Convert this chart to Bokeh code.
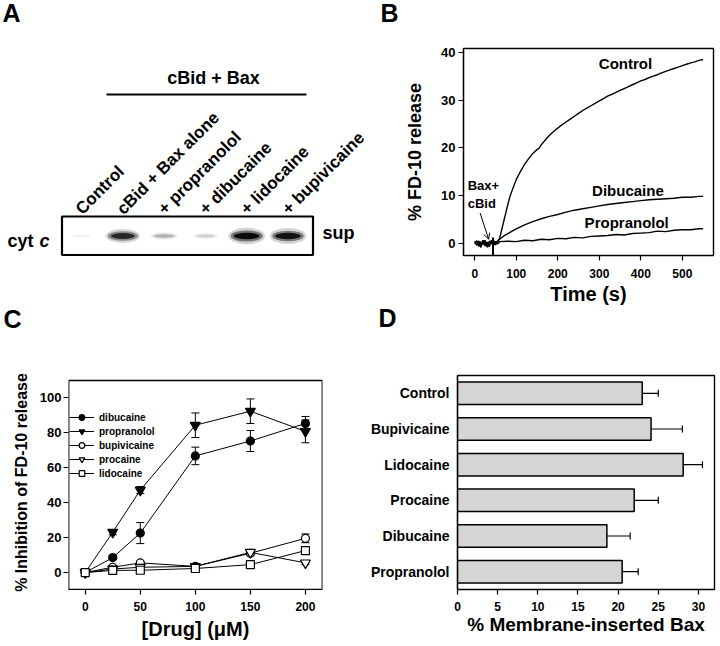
import math
from bokeh.plotting import figure
from bokeh.layouts import row, column
from bokeh.models import (Range1d, FactorRange, ColumnDataSource, Arrow, OpenHead,
                          Whisker, TeeHead, Legend, LegendItem, BoxAnnotation)
from bokeh.core.properties import value
from bokeh.embed import file_html
from bokeh.resources import INLINE

FONT = "Liberation Sans"

# ---------------- Panel A data ----------------
lane_labels = ["Control", "cBid + Bax alone", "+ propranolol", "+ dibucaine", "+ lidocaine", "+ bupivicaine"]
band_intensity = [0.03, 0.8, 0.22, 0.12, 1.0, 0.95]

# ---------------- Panel B data ----------------
t_control = [0, 5, 10, 15, 20, 25, 30, 35, 40, 45, 50, 55, 60,
             65, 70, 75, 80, 85, 90, 95, 100,
             110, 120, 130, 140, 150, 155,
             160, 170, 180, 190, 200, 210, 220, 230, 240, 250, 260, 270, 280, 290, 300,
             310, 320, 330, 340, 350, 360, 370, 380, 390, 400, 410, 420, 430, 440, 450,
             460, 470, 480, 490, 500, 510, 520, 530, 540, 550]
y_control = [0.3, 0.1, 0.4, -0.4, 0.5, -0.6, 0.2, -0.8, 0.6, -0.5, 0.3, 0.2, 1.0,
             2.8, 4.6, 6.4, 8.2, 9.8, 11.0, 12.2, 13.3,
             15.0, 16.5, 17.7, 18.8, 19.6, 19.9,
             20.6, 21.6, 22.6, 23.4, 24.1, 24.8, 25.4, 26.0, 26.6, 27.2, 27.8, 28.3, 28.8, 29.3, 29.8,
             30.3, 30.8, 31.2, 31.6, 32.0, 32.4, 32.8, 33.2, 33.6, 34.0, 34.3, 34.7, 35.0, 35.3, 35.7,
             36.0, 36.3, 36.6, 36.9, 37.2, 37.5, 37.8, 38.0, 38.3, 38.5]

t_dibucaine = [0, 5, 10, 15, 20, 25, 30, 35, 40, 45, 50, 55, 60,
               70, 80, 90, 100, 120, 140, 160, 180, 200, 220, 240, 260, 280, 300,
               320, 340, 360, 380, 400, 420, 440, 460, 480, 500, 520, 540, 550]
y_dibucaine = [-0.2, 0.5, -0.7, 0.3, -0.3, 0.6, -0.9, 0.4, -0.2, 0.7, -0.4, 0.5, 0.8,
               1.5, 2.0, 2.5, 3.0, 3.8, 4.5, 5.1, 5.6, 6.0, 6.5, 6.9, 7.2, 7.5, 7.8,
               8.1, 8.3, 8.5, 8.7, 8.9, 9.1, 9.2, 9.3, 9.4, 9.6, 9.6, 9.8, 9.8]

t_propranolol = [0, 5, 10, 15, 20, 25, 30, 35, 40, 45, 50, 55, 60,
                 80, 100, 120, 140, 160, 180, 200, 220, 240, 260, 280, 300,
                 320, 340, 360, 380, 400, 420, 440, 460, 480, 500, 520, 540, 550]
y_propranolol = [0.4, -0.5, 0.2, -0.9, 0.6, -0.3, 0.1, -0.6, 0.5, -0.4, 0.2, -0.2, 0.3,
                 0.4, 0.3, 0.6, 0.5, 0.8, 0.7, 1.0, 0.9, 1.2, 1.1, 1.4, 1.5,
                 1.6, 1.8, 1.7, 2.0, 2.1, 2.2, 2.5, 2.4, 2.7, 2.8, 2.8, 3.0, 3.0]

addition_time = [44]

# ---------------- Panel C data ----------------
conc = [0, 25, 50, 100, 150, 200]
drug_names = ["dibucaine", "propranolol", "bupivicaine", "procaine", "lidocaine"]
inh_dibucaine = [0, 8.5, 22.5, 66.5, 75, 85]
err_dibucaine = [0, 1, 6, 5, 6, 4]
inh_propranolol = [0, 23, 47, 84, 92, 80.5]
err_propranolol = [0, 1.5, 2, 7, 7, 6.5]
inh_bupivicaine = [0, 3, 5.5, 3.5, 11, 19.5]
err_bupivicaine = [0, 0.5, 1, 0.5, 1, 2.5]
inh_procaine = [0, 2, 3, 3.5, 11.5, 5.5]
err_procaine = [0, 0.5, 0.5, 0.5, 1.5, 1]
inh_lidocaine = [0, 1.2, 1.3, 2.3, 4.5, 12.5]
err_lidocaine = [0, 0.5, 0.5, 0.5, 0.5, 0.5]

# ---------------- Panel D data ----------------
bax_categories = ["Control", "Bupivicaine", "Lidocaine", "Procaine", "Dibucaine", "Propranolol"]
bax_values = [23.0, 24.1, 28.1, 22.0, 18.6, 20.5]
bax_errors = [2.0, 3.9, 2.4, 3.0, 2.9, 2.0]

panel_letters = ["A", "B", "C", "D"]


def style_axes(p, xtick, ytick, xlab, ylab):
    for ax in p.axis:
        ax.major_label_text_font = FONT
        ax.major_label_text_font_style = "bold"
        ax.major_label_text_color = "black"
        ax.axis_label_text_font = FONT
        ax.axis_label_text_font_style = "bold"
        ax.axis_label_text_color = "black"
        ax.minor_tick_line_color = None
        ax.major_tick_in = 0
        ax.major_tick_out = 5
        ax.axis_line_color = "black"
        ax.axis_line_width = 1.2
        ax.major_tick_line_color = "black"
        ax.major_tick_line_width = 1.2
    p.xaxis.major_label_text_font_size = xtick
    p.yaxis.major_label_text_font_size = ytick
    p.xaxis.axis_label_text_font_size = xlab
    p.yaxis.axis_label_text_font_size = ylab
    p.grid.visible = False
    p.outline_line_color = "black"
    p.outline_line_width = 1.4


TXT = dict(text_font=value(FONT), text_color="black")

# ================= Panel A (also carries the panel letters) =================
pA = figure(width=400, height=334, x_range=Range1d(0, 400), y_range=Range1d(334, 0),
            output_backend="svg", toolbar_location=None, min_border=0,
            x_axis_location=None, y_axis_location=None)
pA.grid.visible = False
pA.outline_line_color = None

n = len(lane_labels)
lane_x = [81 + 41.3 * i for i in range(n)]
band_y = [235.5] * n
band_w = [22 + 10 * v for v in band_intensity]
band_h = [4 + 7 * v for v in band_intensity]

pA.quad(left=[61.5], right=[312.5], top=[216], bottom=[254.5], fill_color="white",
        line_color="black", line_width=2.2)
pA.ellipse(x=lane_x, y=band_y, width=[w * 1.15 for w in band_w], height=[h * 1.5 for h in band_h],
           fill_color="black", fill_alpha=[0.18 * v for v in band_intensity], line_color=None)
pA.ellipse(x=lane_x, y=band_y, width=band_w, height=band_h,
           fill_color="black", fill_alpha=[0.45 * v for v in band_intensity], line_color=None)
pA.ellipse(x=lane_x, y=band_y, width=[w * 0.8 for w in band_w], height=[h * 0.6 for h in band_h],
           fill_color="black", fill_alpha=[0.9 * v for v in band_intensity], line_color=None)

pA.text(x=[lx - 3 for lx in lane_x], y=[211] * n, text=lane_labels, angle=math.pi / 4,
        text_font_style="bold", text_font_size="17px",
        text_align="left", text_baseline="alphabetic", **TXT)
pA.text(x=[213], y=[77], text=["cBid + Bax"], text_font_style="bold",
        text_font_size="18px", text_align="center", text_baseline="middle", **TXT)
pA.segment(x0=[106], y0=[94], x1=[306], y1=[94], line_color="black", line_width=2.2)
pA.text(x=[7], y=[240], text=["cyt"], text_font_style="bold",
        text_font_size="18px", text_align="left", text_baseline="middle", **TXT)
pA.text(x=[39], y=[240], text=["c"], text_font_style="bold italic",
        text_font_size="18px", text_align="left", text_baseline="middle", **TXT)
pA.text(x=[322], y=[232], text=["sup"], text_font_style="bold",
        text_font_size="18px", text_align="left", text_baseline="middle", **TXT)
pA.text(x=[2, 380, 3, 378], y=[12, 12, 318, 317], text=panel_letters, text_font_style="bold",
        text_font_size="25px", text_align="left", text_baseline="middle", **TXT)

# ================= Panel B =================
pB = figure(width=320, height=334, x_range=Range1d(-27, 575), y_range=Range1d(-2.6, 40.8),
            output_backend="svg", toolbar_location=None,
            min_border_left=63, min_border_right=7, min_border_top=48, min_border_bottom=79)
pB.line(t_control, y_control, line_color="black", line_width=1.4)
pB.line(t_dibucaine, y_dibucaine, line_color="black", line_width=1.4)
pB.line(t_propranolol, y_propranolol, line_color="black", line_width=1.4)
pB.segment(x0=addition_time, y0=[1.2], x1=addition_time, y1=[-3], line_color="black", line_width=2)
pB.add_layout(Arrow(end=OpenHead(size=6, line_width=1, line_color="black"),
                    x_start=13, y_start=6.3, x_end=33.5, y_end=0.8,
                    line_color="black", line_width=1))
pB.text(x=[363, 369, 366], y=[37.7, 11.0, 4.3], text=["Control", "Dibucaine", "Propranolol"],
        text_font_style="bold", text_font_size="15px",
        text_align="center", text_baseline="middle", **TXT)
pB.text(x=[-17, -17], y=[12.0, 8.4], text=["Bax+", "cBid"],
        text_font_style="bold", text_font_size="13px",
        text_align="left", text_baseline="middle", **TXT)
pB.xaxis.ticker = [0, 100, 200, 300, 400, 500]
pB.yaxis.ticker = [0, 10, 20, 30, 40]
pB.xaxis.axis_label = "Time (s)"
pB.yaxis.axis_label = "% FD-10 release"
style_axes(pB, "12px", "13px", "20px", "18px")
pB.xaxis.major_label_standoff = 8
pB.xaxis.axis_label_standoff = 2
pB.yaxis.major_label_standoff = 3
pB.yaxis.axis_label_standoff = 13

# ================= Panel C =================
pC = figure(width=366, height=312, x_range=Range1d(-15.2, 215.5), y_range=Range1d(-9.68, 112.36),
            output_backend="svg", toolbar_location=None,
            min_border_left=68, min_border_right=44, min_border_top=41, min_border_bottom=57)
series = [
    (drug_names[0], inh_dibucaine, err_dibucaine, "circle", "black", 8),
    (drug_names[1], inh_propranolol, err_propranolol, "inverted_triangle", "black", 10),
    (drug_names[2], inh_bupivicaine, err_bupivicaine, "circle", "white", 8),
    (drug_names[3], inh_procaine, err_procaine, "inverted_triangle", "white", 10),
    (drug_names[4], inh_lidocaine, err_lidocaine, "square", "white", 8),
]
items = []
for name, ys, errs, marker, fill, size in series:
    src = ColumnDataSource(dict(x=conc[1:], lo=[y - e for y, e in zip(ys[1:], errs[1:])],
                                hi=[y + e for y, e in zip(ys[1:], errs[1:])]))
    pC.add_layout(Whisker(source=src, base="x", lower="lo", upper="hi", dimension="height",
                          line_color="black", line_width=1,
                          lower_head=TeeHead(size=8, line_color="black", line_width=1),
                          upper_head=TeeHead(size=8, line_color="black", line_width=1)))
for name, ys, errs, marker, fill, size in series:
    lr = pC.line(conc, ys, line_color="black", line_width=1)
    sr = pC.scatter(conc, ys, marker=marker, size=size, fill_color=fill, line_color="black", line_width=1.2)
    items.append(LegendItem(label=name, renderers=[lr, sr]))
pC.add_layout(BoxAnnotation(left=-15.0, right=215.3, bottom=-9.6, top=109.5, fill_alpha=0,
                            fill_color=None, line_color="black", line_width=1.4, line_alpha=1))
legend = Legend(items=items, location=(1, 109), label_text_font=FONT, label_text_font_size="10px",
                label_text_font_style="bold", label_text_color="black", glyph_width=25, glyph_height=14,
                label_height=14, spacing=0, padding=3, margin=0, label_standoff=5,
                border_line_color=None, background_fill_alpha=0)
pC.add_layout(legend)
pC.xaxis.ticker = [0, 50, 100, 150, 200]
pC.yaxis.ticker = [0, 20, 40, 60, 80, 100]
pC.xaxis.axis_label = "[Drug] (\u03bcM)"
pC.yaxis.axis_label = "% Inhibition of FD-10 release"
style_axes(pC, "12px", "13px", "20px", "16px")
pC.outline_line_color = None
pC.yaxis.axis_line_color = None
pC.xaxis.major_label_standoff = 7
pC.xaxis.axis_label_standoff = 4
pC.yaxis.major_label_standoff = 2
pC.yaxis.axis_label_standoff = 7

# ================= Panel D =================
pD = figure(width=354, height=312, x_range=Range1d(0, 32),
            y_range=FactorRange(factors=bax_categories[::-1], range_padding=0),
            output_backend="svg", toolbar_location=None,
            min_border_left=91, min_border_right=6, min_border_top=41, min_border_bottom=57)
srcD = ColumnDataSource(dict(cat=bax_categories, val=bax_values,
                             hi=[v + e for v, e in zip(bax_values, bax_errors)]))
pD.add_layout(Whisker(source=srcD, base="cat", lower="val", upper="hi", dimension="width",
                      line_color="black", line_width=1.2, lower_head=None,
                      upper_head=TeeHead(size=7, line_color="black", line_width=1.2)))
pD.hbar(y="cat", right="val", left=0, height=0.63, source=srcD, fill_color="#d5d5d5",
        line_color="black", line_width=1.5)
pD.xaxis.ticker = [0, 5, 10, 15, 20, 25, 30]
pD.xaxis.axis_label = "% Membrane-inserted Bax"
style_axes(pD, "12px", "14px", "19px", "14px")
pD.yaxis.major_tick_line_color = None
pD.yaxis.major_tick_out = 0
pD.yaxis.major_label_standoff = 8
pD.xaxis.major_label_standoff = 7
pD.xaxis.axis_label_standoff = 0

layout = column(row(column(pA), pB), row(pC, pD))
open("out.html", "w").write(file_html(layout, INLINE))
